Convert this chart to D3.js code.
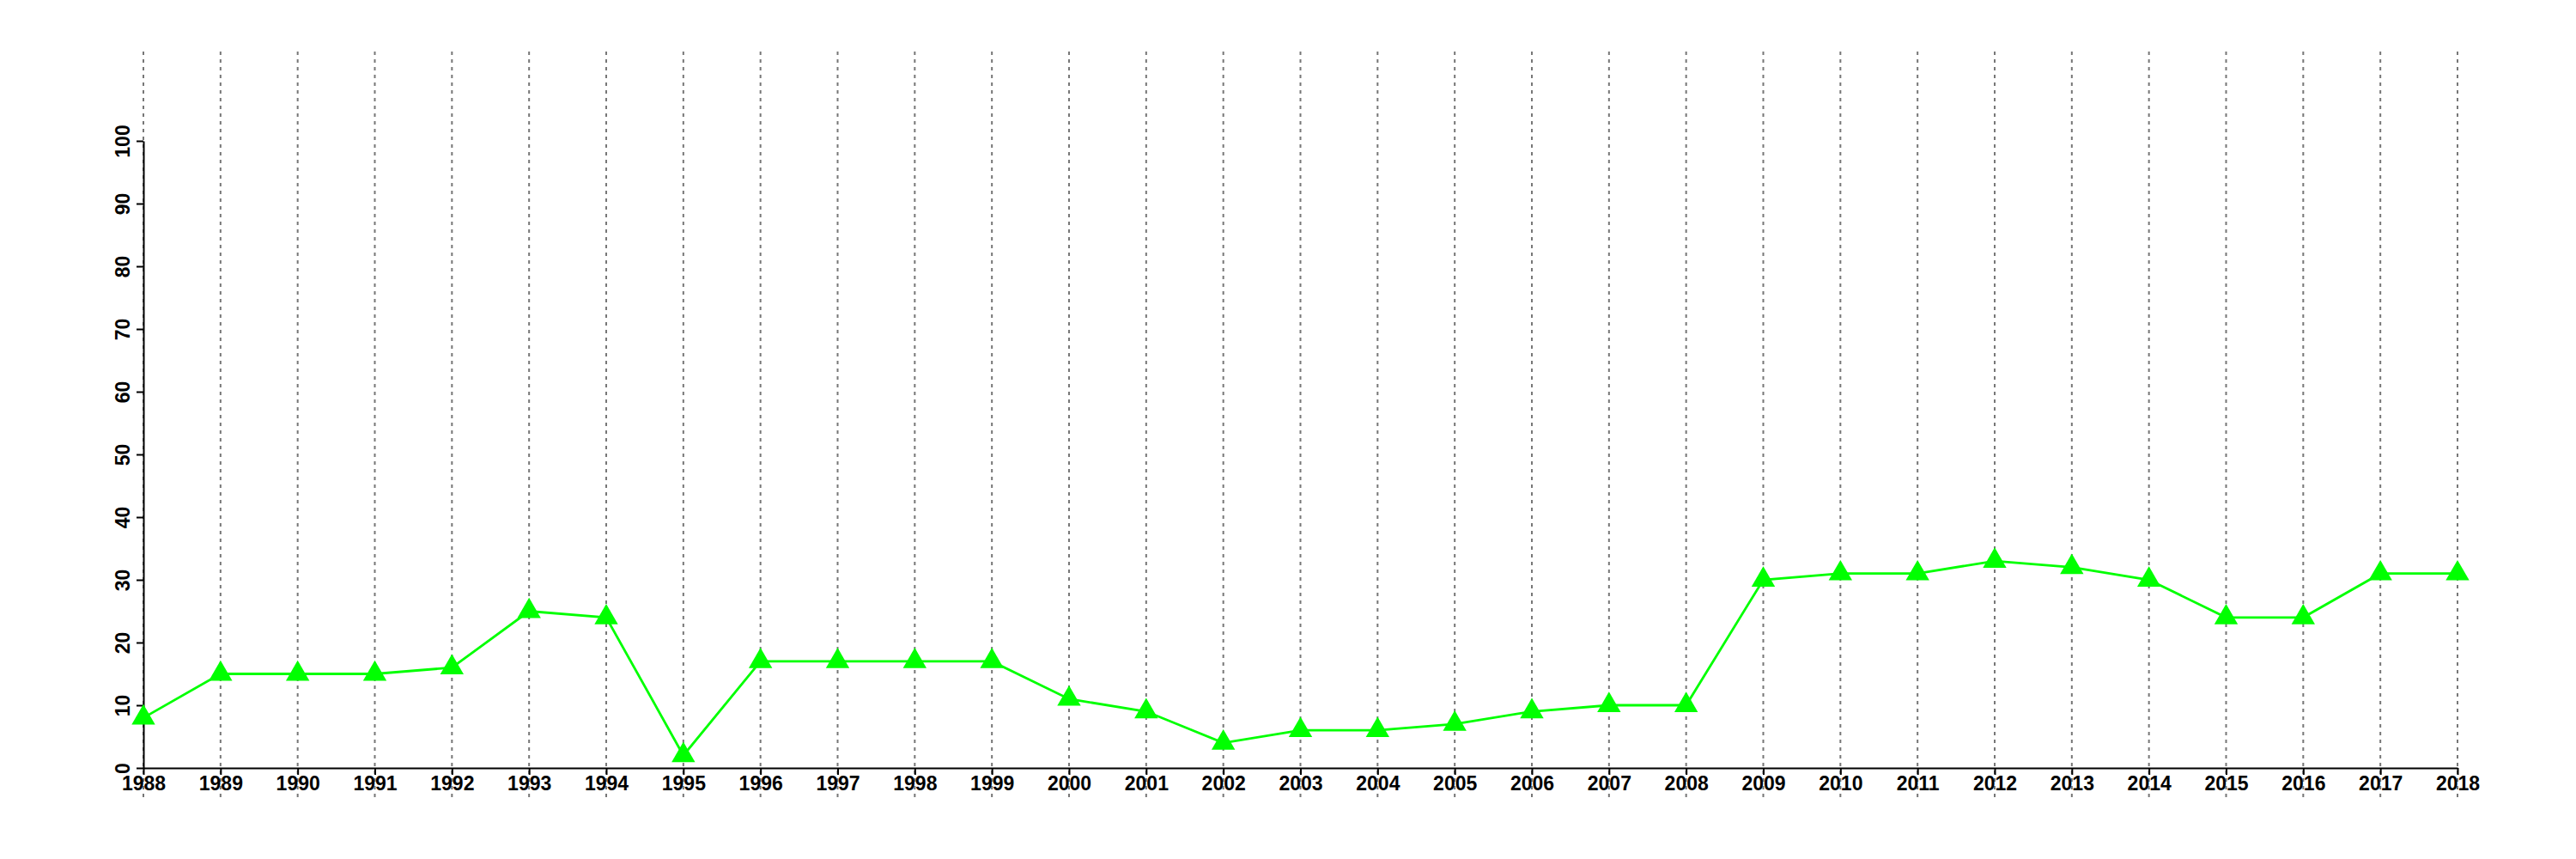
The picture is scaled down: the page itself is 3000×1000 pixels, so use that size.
<!DOCTYPE html>
<html>
<head>
<meta charset="utf-8">
<script src="https://cdnjs.cloudflare.com/ajax/libs/d3/7.8.5/d3.min.js"></script>
<style>
	html, body { margin: 0; padding: 0; background: #fff; }
	.axis text { font-family: "Liberation Sans", Arial, sans-serif; font-weight: bold; font-size: 23px; fill: #000; }
	.axis path, .axis line { stroke: #000; stroke-width: 2; }
</style>
</head>
<body>
<div id="chart"></div>
<script>
var years = [1988, 1989, 1990, 1991, 1992, 1993, 1994, 1995, 1996, 1997, 1998, 1999, 2000,
	2001, 2002, 2003, 2004, 2005, 2006, 2007, 2008, 2009, 2010, 2011, 2012, 2013, 2014,
	2015, 2016, 2017, 2018];
var values = [8, 15, 15, 15, 16, 25, 24, 2, 17, 17, 17, 17, 11,
	9, 4, 6, 6, 7, 9, 10, 10, 30, 31, 31, 33, 32, 30,
	24, 24, 31, 31];
var yTicks = [0, 10, 20, 30, 40, 50, 60, 70, 80, 90, 100];

var width = 3000, height = 1000;
var plotLeft = 167, plotRight = 2862, plotTop = 164, plotBottom = 894;

var svg = d3.select('#chart').append('svg')
	.attr('width', width)
	.attr('height', height);

var x = d3.scaleLinear().domain([years[0], years[years.length - 1]]).range([plotLeft, plotRight]);
var y = d3.scaleLinear().domain([0, 100]).range([plotBottom, plotTop]);

// dotted vertical grid, one per year
svg.append('g').selectAll('line')
	.data(years)
	.enter()
	.append('line')
	.attr('x1', function(d) { return x(d); })
	.attr('x2', function(d) { return x(d); })
	.attr('y1', 60)
	.attr('y2', 928)
	.attr('stroke', '#777')
	.attr('stroke-width', 2)
	.attr('stroke-dasharray', '4,5');

var xAxis = svg.append('g')
	.attr('class', 'axis')
	.attr('transform', 'translate(0,' + plotBottom + ')')
	.call(d3.axisBottom(x).tickValues(years).tickFormat(d3.format('d')).tickSize(8).tickSizeOuter(0).tickPadding(2));

var yAxis = svg.append('g')
	.attr('class', 'axis')
	.attr('transform', 'translate(' + plotLeft + ',0)')
	.call(d3.axisLeft(y).tickValues(yTicks).tickSize(8).tickSizeOuter(0).tickPadding(0));
yAxis.selectAll('text')
	.attr('text-anchor', 'middle')
	.attr('dy', 0)
	.attr('x', 0)
	.attr('transform', 'translate(-16,0) rotate(-90)');

var line = d3.line()
	.x(function(d, i) { return x(years[i]); })
	.y(function(d) { return y(d); });

svg.append('path')
	.datum(values)
	.attr('d', line)
	.attr('fill', 'none')
	.attr('stroke', '#00ff00')
	.attr('stroke-width', 2.8);

var tri = d3.symbol().type(d3.symbolTriangle).size(325);
svg.append('g').selectAll('path')
	.data(values)
	.enter()
	.append('path')
	.attr('d', tri)
	.attr('transform', function(d, i) { return 'translate(' + x(years[i]) + ',' + y(d) + ')'; })
	.attr('fill', '#00ff00');
</script>
</body>
</html>
